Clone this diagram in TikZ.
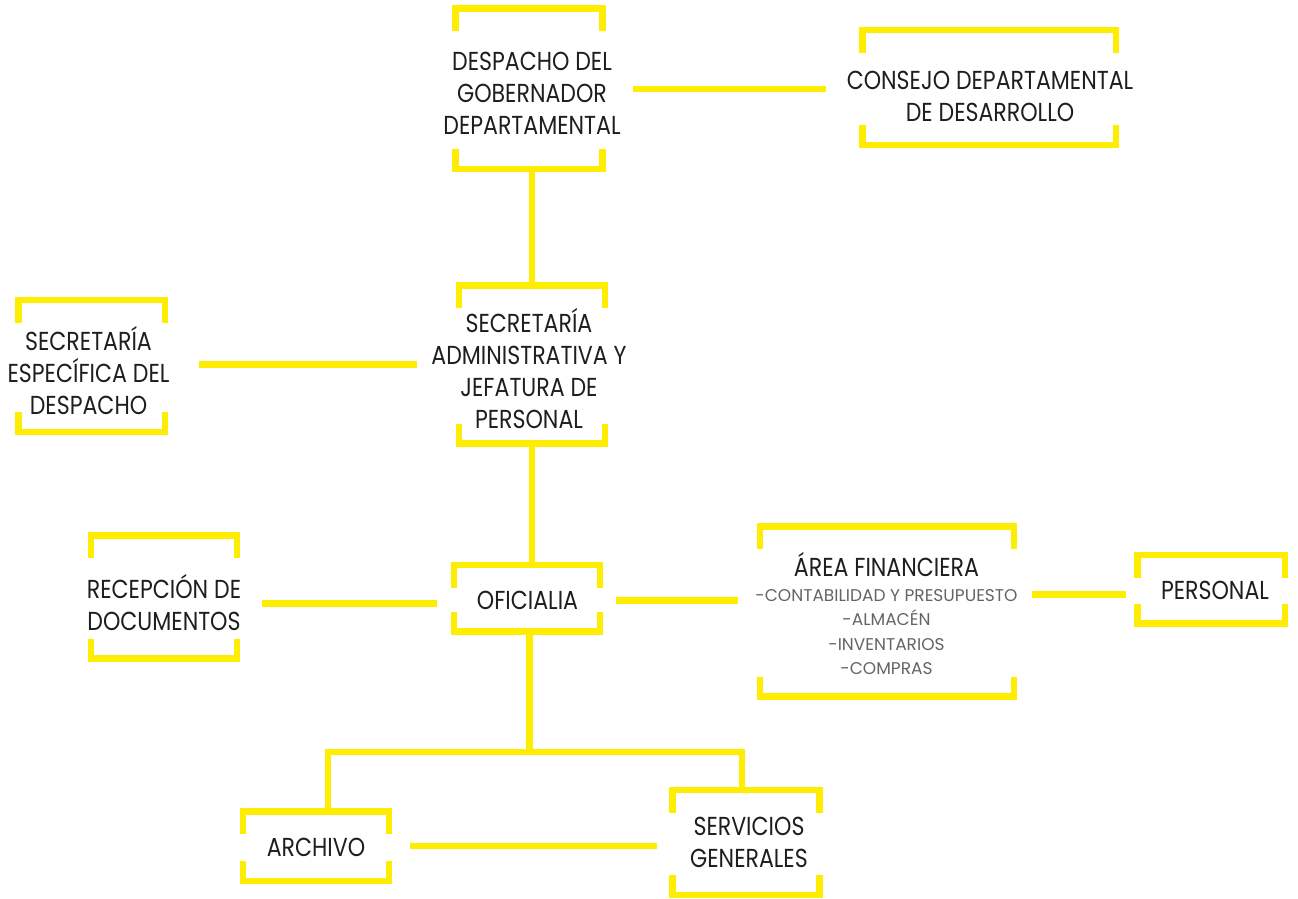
\documentclass[tikz,border=0pt]{standalone}
\usepackage{fontspec}
\setmainfont[FakeStretch=0.85]{Poppins}
\newfontfamily\subfont{Poppins}
\definecolor{ybar}{RGB}{255,237,0}
\definecolor{txt}{RGB}{30,30,30}
\definecolor{subtxt}{RGB}{100,100,100}
\begin{document}
\begin{tikzpicture}[x=1pt,y=-1pt,
  box/.style={draw=none,inner sep=0pt,minimum width=#1},
  lbl/.style={inner sep=0pt,align=center,text=txt,font=\fontsize{26}{32}\selectfont},
  sublbl/.style={inner sep=0pt,align=center,text=subtxt,font=\subfont\fontsize{17}{24.3}\selectfont},
  br/.style={draw=ybar,line width=6.5pt,line join=miter,line cap=butt},
  conn/.style={draw=ybar,line width=6.5pt,line cap=butt}]
\useasboundingbox (0,0) rectangle (1298,898);
% boxes
\node[box=147pt,minimum height=160.5pt] (desp) at (529,88.75) {};
\node[box=253.5pt,minimum height=115pt] (cons) at (989.25,87.5) {};
\node[box=146pt,minimum height=158pt] (sadm) at (532,364.5) {};
\node[box=146.5pt,minimum height=132pt] (sesp) at (91.75,366) {};
\node[box=146pt,minimum height=123pt] (rece) at (164,597) {};
\node[box=146pt,minimum height=66.5pt] (ofic) at (527,598.25) {};
\node[box=254pt,minimum height=170pt] (area) at (887,611.5) {};
\node[box=147.5pt,minimum height=68.5pt] (pers) at (1211.25,589.25) {};
\node[box=146pt,minimum height=69.5pt] (arch) at (316,846.25) {};
\node[box=146.5pt,minimum height=105pt] (serv) at (746,842.5) {};
% brackets
\foreach \n in {desp,cons,sadm,sesp,rece,ofic,area,pers,arch,serv}{
  \draw[br] ([yshift=-23pt]\n.north west) -- (\n.north west) -- (\n.north east) -- ([yshift=-23pt]\n.north east);
  \draw[br] ([yshift=20pt]\n.south west) -- (\n.south west) -- (\n.south east) -- ([yshift=20pt]\n.south east);
}
% texts
\node[lbl] (desp-t) at (532,93.5) {DESPACHO DEL\\GOBERNADOR\\DEPARTAMENTAL};
\node[lbl] (cons-t) at (990,96.5) {CONSEJO DEPARTAMENTAL\\DE DESARROLLO};
\node[lbl] (sadm-t) at (529,368.5) {SECRETARÍA\\ADMINISTRATIVA Y\\JEFATURA DE\\PERSONAL};
\node[lbl] (sesp-t) at (88.5,371) {SECRETARÍA\\ESPECÍFICA DEL\\DESPACHO};
\node[lbl] (rece-t) at (164,602.5) {RECEPCIÓN DE\\DOCUMENTOS};
\node[lbl] (ofic-t) at (527.5,600) {OFICIALIA};
\node[lbl] (area-t) at (886.5,565) {ÁREA FINANCIERA};
\node[sublbl] (area-s) at (886.5,632) {-CONTABILIDAD Y PRESUPUESTO\\-ALMACÉN\\-INVENTARIOS\\-COMPRAS};
\node[lbl] (pers-t) at (1215,590) {PERSONAL};
\node[lbl] (arch-t) at (316,847) {ARCHIVO};
\node[lbl] (serv-t) at (749,842.5) {SERVICIOS\\GENERALES};
% connectors
\draw[conn,shorten <=30.5pt,shorten >=36.5pt] (desp.east) -- (desp.east -| cons.west);
\draw[conn] (sadm.north |- desp.south) -- (sadm.north);
\draw[conn,shorten <=34pt,shorten >=42pt] (sesp.east |- sadm.west) -- (sadm.west);
\draw[conn] (sadm.south) -- (sadm.south |- ofic.north);
\draw[conn,shorten <=25pt,shorten >=17pt] (rece.east |- 0,603.5) -- (ofic.west |- 0,603.5);
\draw[conn,shorten <=16pt,shorten >=22pt] (ofic.east |- 0,600.5) -- (area.west |- 0,600.5);
\draw[conn,shorten <=18pt,shorten >=11.5pt] (area.east |- 0,594.5) -- (pers.west |- 0,594.5);
\coordinate (split) at (529.5,752);
\draw[conn] (ofic.south -| split) -- (split);
\draw[conn,line join=miter] ([xshift=12pt]arch.north) -- ([xshift=12pt]arch.north |- split) -- ([xshift=-4pt]serv.north |- split) -- ([xshift=-4pt]serv.north);
\draw[conn,shorten <=21pt,shorten >=16pt] (arch.east |- 0,846) -- (serv.west |- 0,846);
\end{tikzpicture}
\end{document}
